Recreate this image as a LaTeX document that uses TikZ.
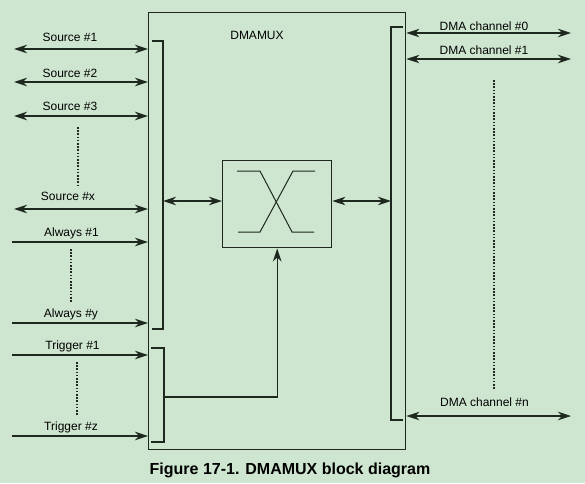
\documentclass[tikz,border=0pt]{standalone}
\usepackage{fontspec}
\setmainfont{Liberation Sans}
\usetikzlibrary{arrows.meta,positioning}
\definecolor{bggreen}{RGB}{206,230,207}
\definecolor{wire}{RGB}{30,40,30}

\begin{document}
\begin{tikzpicture}[
    x=1pt, y=-1pt,
    line width=1.2pt, color=wire,
    block/.style={draw=wire, line width=1.4pt, inner sep=0pt, anchor=north west},
    sig/.style={font=\fontsize{12}{14}\selectfont, text=black, inner sep=0pt, anchor=base},
    biarrow/.style={{Stealth[length=13pt,width=8.5pt,inset=4pt]}-{Stealth[length=13pt,width=8.5pt,inset=4pt]}},
    inarrow/.style={-{Stealth[length=13pt,width=8.5pt,inset=4pt]}},
    dots/.style={line width=1.1pt, dash pattern=on 1.6pt off 1.6pt}
]
\fill[bggreen] (0,0) rectangle (585,483);
\useasboundingbox (0,0) rectangle (585,483);

% main block and switch
\node[block, minimum width=257pt, minimum height=437pt] (dmamux) at (148,12) {};
\node[sig] (title) at (257,39.5) {DMAMUX};
\node[block, minimum width=109pt, minimum height=87pt] (mux) at (222,160) {};
\draw[line width=1pt] (237,171) -- (260,171) -- (292,232) -- (314,232);
\draw[line width=1pt] (315,171) -- (293,171) -- (260,232) -- (238,232);

% bus bars
\draw (152,41) -- (163,41) -- (163,329) -- (152,329);
\draw (151,348) -- (164,348) -- (164,442) -- (151,442);
\draw (403,27) -- (391,27) -- (391,420) -- (403,420);
\coordinate (lbus) at (163,201);
\coordinate (rbus) at (391,201);
\coordinate (trig) at (164,397);

\draw[biarrow] (lbus) -- (lbus -| mux.west);
\draw[biarrow] (rbus -| mux.east) -- (rbus);
\draw[inarrow] (trig) -| (mux.south);

% request lines
\coordinate (src1) at (14,49);
\coordinate (src2) at (14,82);
\coordinate (src3) at (14,116);
\coordinate (srcx) at (14,209);
\coordinate (alw1) at (12,242);
\coordinate (alwy) at (12,323);
\coordinate (trg1) at (12,355);
\coordinate (trgz) at (12,436);

\draw[biarrow] (src1) -- (src1 -| dmamux.west);
\draw[biarrow] (src2) -- (src2 -| dmamux.west);
\draw[biarrow] (src3) -- (src3 -| dmamux.west);
\draw[biarrow] (srcx) -- (srcx -| dmamux.west);
\draw[inarrow] (alw1) -- (alw1 -| dmamux.west);
\draw[inarrow] (alwy) -- (alwy -| dmamux.west);
\draw[inarrow] (trg1) -- (trg1 -| dmamux.west);
\draw[inarrow] (trgz) -- (trgz -| dmamux.west);

\node[sig] (lsrc1) at (70,41.5) {Source \#1};
\node[sig] (lsrc2) at (70,77) {Source \#2};
\node[sig] (lsrc3) at (70,110.5) {Source \#3};
\node[sig] (lsrcx) at (68,200.5) {Source \#x};
\node[sig] (lalw1) at (71.5,236.5) {Always \#1};
\node[sig] (lalwy) at (71,317.5) {Always \#y};
\node[sig] (ltrg1) at (72.5,349.5) {Trigger \#1};
\node[sig] (ltrgz) at (71,430.5) {Trigger \#z};

\draw[dots] (78,127) -- (78,185);
\draw[dots] (71,249) -- (71,303);
\draw[dots] (77,362) -- (77,416);

% channel outputs
\coordinate (ch0) at (571,33);
\coordinate (ch1) at (571,59);
\coordinate (chn) at (571,416);

\draw[biarrow] (ch0 -| dmamux.east) -- (ch0);
\draw[biarrow] (ch1 -| dmamux.east) -- (ch1);
\draw[biarrow] (chn -| dmamux.east) -- (chn);

\node[sig] (lch0) at (484,30.5) {DMA channel \#0};
\node[sig] (lch1) at (484,54.5) {DMA channel \#1};
\node[sig] (lchn) at (484.5,406.5) {DMA channel \#n};

\draw[dots] (494,80) -- (494,390);

\node[sig, font=\fontsize{16}{18}\selectfont\bfseries] (caption) at (290,474.5) {Figure 17-1. DMAMUX block diagram};
\end{tikzpicture}
\end{document}
